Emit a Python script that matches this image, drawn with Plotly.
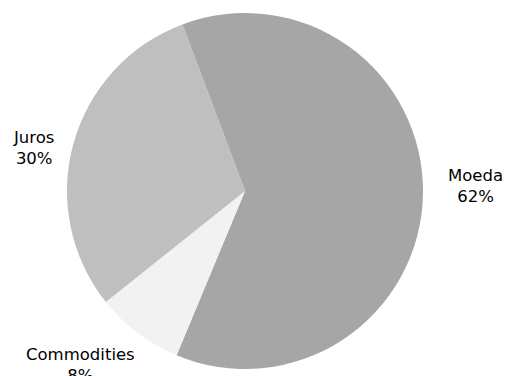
import plotly.graph_objects as go

labels = ["Moeda", "Commodities", "Juros"]
values = [62, 8, 30]
colors = ["#a6a6a6", "#f2f2f2", "#bfbfbf"]

W, H = 506, 376
# label anchor positions in pixels (layout)
label_px = [(475, 186), (80, 365), (33, 148)]

fig = go.Figure(go.Pie(
    labels=labels, values=values, sort=False, direction="clockwise",
    rotation=-20.6, marker=dict(colors=colors, line=dict(width=0)),
    textinfo="none", hoverinfo="label+percent",
    domain=dict(x=[67 / W, 423 / W], y=[7 / H, 363 / H]),
))

total = sum(values)
for (lab, val), (px, py) in zip(zip(labels, values), label_px):
    fig.add_annotation(
        x=px / W, y=1 - py / H, xref="paper", yref="paper",
        text=f"{lab}<br>{round(val / total * 100)}%", showarrow=False,
        xanchor="center", yanchor="middle",
        font=dict(family="DejaVu Sans", size=16.5, color="#000000"),
    )

fig.update_layout(
    width=W, height=H, margin=dict(l=0, r=0, t=0, b=0),
    showlegend=False, paper_bgcolor="white", plot_bgcolor="white",
)
fig.write_html("out.html")
